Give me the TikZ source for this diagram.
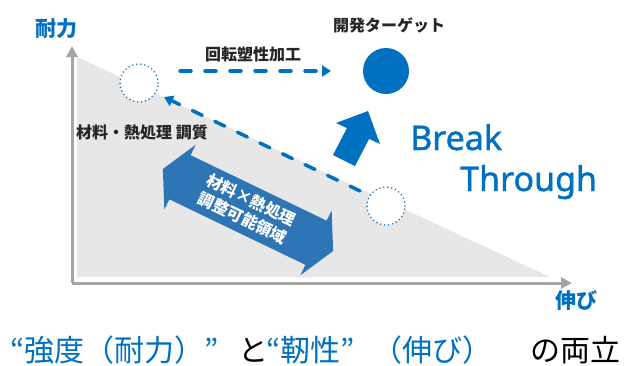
\documentclass[tikz,border=0pt]{standalone}
\usepackage{fontspec}
\setmainfont{Noto Sans}
\newfontfamily\jp{Noto Sans CJK JP}
\newfontfamily\semib{Noto Sans}[FakeBold=1.2]
\usetikzlibrary{arrows.meta}
\definecolor{cblue}{HTML}{0070C0}
\definecolor{dblue}{HTML}{2E75B6}
\definecolor{axisgray}{HTML}{A5A5A5}
\definecolor{trigray}{HTML}{E7E7E7}
\definecolor{txt}{HTML}{262626}
\begin{document}
\begin{tikzpicture}[x=1pt,y=-1pt,
  lbl/.style={font=\jp\bfseries\fontsize{16}{18}\selectfont, text=txt, inner sep=0},
  axislbl/.style={font=\jp\bfseries\fontsize{21}{23}\selectfont, text=cblue, inner sep=0},
  axisline/.style={draw=axisgray, line width=3pt, -{Triangle[length=11pt,width=11pt]}},
  dashedarrow/.style={draw=cblue, line width=3.5pt, line cap=round, dash pattern=on 11pt off 14pt, -{Triangle[length=9pt,width=11pt]}},
  dotcircle/.style={circle, draw=dblue, fill=white, line width=1.8pt, dash pattern=on 0pt off 4pt, line cap=round, minimum size=38pt, inner sep=0},
  bigtxt/.style={font=\semib\fontsize{34}{41}\selectfont, text=cblue, anchor=base west, inner sep=0},
  bottom/.style={font=\jp\fontsize{30}{32}\selectfont, anchor=base west, inner sep=0}]
\useasboundingbox (0,0) rectangle (632,365);
% triangle region
\fill[trigray] (77,57) -- (77,277) -- (550,277) -- cycle;
% axes
\coordinate (O) at (72,283);
\coordinate (ytop) at (72,46);
\coordinate (xend) at (572,283);
\draw[axisline] (O) -- (ytop);
\draw[axisline] (O) -- (xend);
\node[axislbl] (ylab) at (56,29) {耐力};
\node[axislbl] (xlab) at (576,301) {伸び};
% circles
\node[dotcircle] (c1) at (139,83) {};
\node[dotcircle] (c2) at (386,206) {};
\node[circle, fill=cblue, minimum size=46pt, inner sep=0] (tgt) at (386,71) {};
% labels
\node[lbl] (tgtlbl) at (389,25) {開発ターゲット};
\node[lbl] (rotlbl) at (253,54) {回転塑性加工};
\node[lbl] (matlbl) at (142,132) {材料・熱処理 調質};
% dashed arrows
\coordinate (h1) at (180,71);
\coordinate (h2) at (331,71);
\draw[dashedarrow] (h1) -- (h2);
\coordinate (d1) at (360,191);
\coordinate (d2) at (164,97);
\draw[dashedarrow] (d1) -- (d2);
% block arrow (break through)
\fill[cblue] (333,155) -- (346.9,128.1) -- (336,123) -- (368,111) -- (380,144) -- (369.1,138.9) -- (355,166) -- cycle;
\node[bigtxt] (brk) at (410,150) {Break};
\node[bigtxt] (thr) at (460,191) {Through};
% double arrow
\begin{scope}[shift={(248,210)}, rotate=-25.7]
\fill[dblue] (-94.5,0) -- (-75.5,-36) -- (-75.5,-24.5) -- (75.5,-24.5) -- (75.5,-36) -- (94.5,0) -- (75.5,36) -- (75.5,24.5) -- (-75.5,24.5) -- (-75.5,36) -- cycle;
\end{scope}
\node[rotate=-25.7, text=white, align=center, inner sep=0, font=\jp\bfseries\fontsize{16}{20}\selectfont] (range) at (247,209) {材料×熱処理\\調整可能領域};
% bottom text
\node[bottom, text=cblue] (s1) at (10,361) {“強度（耐力）”};
\node[bottom, text=black] (s2) at (238,361) {と};
\node[bottom, text=cblue] (s3) at (266,361) {“靭性”};
\node[bottom, text=cblue] (s4) at (372,361) {（伸び）};
\node[bottom, text=black] (s5) at (530,361) {の両立};
\end{tikzpicture}
\end{document}
